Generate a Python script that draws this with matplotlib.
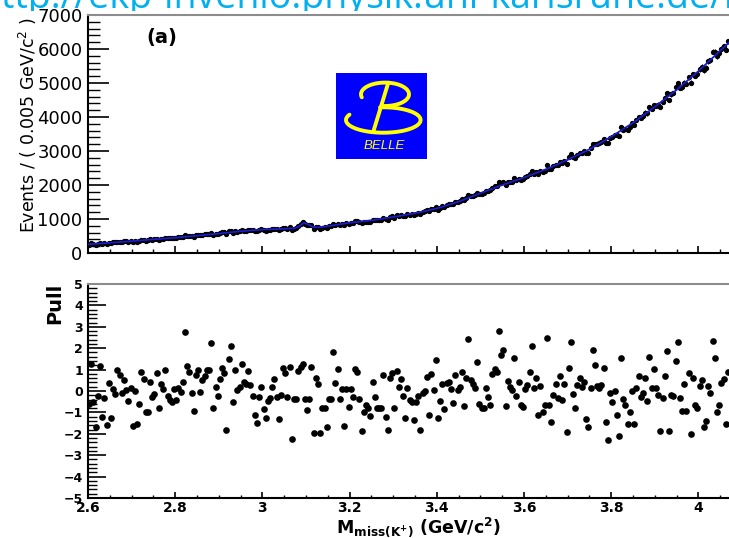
import numpy as np
import matplotlib
matplotlib.use("Agg")
import matplotlib.pyplot as plt
from matplotlib.ticker import MultipleLocator, FixedLocator, FixedFormatter
from matplotlib.patches import Rectangle

# ---- data -------------------------------------------------------------
# Missing-mass histogram: 0.005 GeV/c^2 bins starting at 2.6 GeV/c^2
mass_low = 2.6
bin_width = 0.005

# Pull per bin: (data - fit) / sigma
pulls = [
    -0.61, 1.25, -0.53, -1.67, -0.22, 1.18, -1.20, -0.31, -1.59, 0.39,
    -1.25, 0.10, -0.16, 0.98, 0.75, -0.11, 0.51, 0.05, -0.47, 0.12,
    -1.62, 0.00, -1.56, -0.62, 0.90, 0.56, -0.97, -0.97, 0.40, -0.30,
    -0.16, 0.86, -0.78, 0.31, 0.09, 0.98, -0.22, -0.42, -0.53, 0.09,
    -0.42, 0.12, -0.03, 0.44, 2.77, 1.18, 0.90, -0.11, -0.94, 0.75,
    0.98, -0.03, 0.51, 0.72, 0.98, 0.98, 2.23, -0.78, 0.20, -0.22,
    0.56, 1.06, 0.82, -1.82, 1.50, 2.12, -0.53, 0.98, 0.05, 0.20,
    1.24, 0.43, 0.31, 0.93, 0.28, -0.22, -1.12, -1.48, -0.26, 0.20,
    -0.85, -1.28, -0.47, -0.31, 0.20, 0.56, -0.26, -1.33, -0.19, 1.09,
    0.83, -0.26, 1.13, -2.24, -0.37, -0.37, 0.93, 1.13, 1.24, -0.37,
    -0.89, -0.37, 1.13, -1.98, 0.59, 0.31, -1.98, -0.81, -0.78, -1.67,
    -0.37, -0.37, 1.84, 0.36, 1.03, -0.37, 0.09, -1.62, 0.09, -0.73,
    0.09, -0.26, 1.03, 0.90, -0.37, -1.87, -1.00, -0.65, -0.78, -1.15,
    0.40, -0.26, -0.81, -0.78, -0.81, 0.75, -1.20, -1.82, 0.62, 0.83,
    -0.81, 0.93, 0.20, 0.56, -0.22, -1.25, 0.12, -0.42, -0.53, -1.36,
    -0.50, -0.22, -1.83, -0.11, 0.00, 0.67, -1.12, 0.78, 0.04, 1.45,
    -1.28, -0.47, 0.31, -0.84, 0.36, 0.40, 0.09, -0.58, 0.75, 0.04,
    0.20, 0.90, -0.70, 0.59, 2.43, 0.51, 0.31, 0.15, 1.37, -0.62,
    -0.78, -0.78, 0.12, -0.26, -0.65, 0.78, 1.03, 0.87, 2.80, 1.68,
    1.91, -0.68, 0.47, 0.20, 0.04, 1.56, -0.22, 0.43, -0.65, -0.73,
    0.10, 0.28, 0.87, 2.12, 0.15, 0.62, -1.12, 0.25, -1.00, -0.65,
    2.46, -0.65, -1.43, -0.19, 0.31, -0.31, 0.72, -0.42, 0.31, -1.93,
    1.09, 2.31, -0.15, -0.78, 0.28, 0.59, 0.20, 0.40, -1.31, -1.67,
    0.12, 1.91, 1.21, 0.25, 0.12, 0.30, 1.09, -1.43, -2.29, -0.11,
    -0.50, 0.00, -1.12, -2.09, 1.56, -0.37, -0.65, -1.56, -0.97, 0.00,
    -1.56, 0.15, 0.72, -0.26, -0.11, 0.62, -0.47, 1.60, 0.12, 1.03,
    0.15, -0.19, -1.87, -0.31, 0.72, 1.87, -1.87, -0.19, -0.22, 1.40,
    2.31, -0.34, -0.94, 0.31, -0.94, 0.83, -2.03, 0.62, -0.65, -0.81,
    0.25, 0.51, -1.67, -1.40, 0.25, -0.11, 2.34, 1.53, -1.00, -0.65,
    0.36, 0.56, -1.56, 0.87,
]

# Fitted shape (events per bin) at selected masses
fit_mass = [2.600, 2.650, 2.700, 2.750, 2.800, 2.850, 2.900, 2.950, 3.000,
            3.050, 3.075, 3.085, 3.095, 3.105, 3.115, 3.130, 3.150, 3.180,
            3.200, 3.250, 3.300, 3.350, 3.400, 3.450, 3.500, 3.550, 3.600,
            3.650, 3.700, 3.750, 3.800, 3.850, 3.900, 3.950, 4.000, 4.050,
            4.075]
fit_events = [255, 300, 350, 400, 450, 510, 570, 640, 690,
              710, 730, 790, 890, 840, 770, 755, 790, 850,
              890, 960, 1060, 1170, 1310, 1510, 1760, 2000, 2220,
              2460, 2740, 3050, 3420, 3830, 4300, 4800, 5350, 5950,
              6250]

x_tick_values = [2.6, 2.8, 3.0, 3.2, 3.4, 3.6, 3.8, 4.0]
x_tick_labels = ["2.6", "2.8", "3", "3.2", "3.4", "3.6", "3.8", "4"]
pull_ticks = list(range(-5, 6))

# ---- derived quantities ----------------------------------------------
pulls = np.asarray(pulls)
centers = mass_low + bin_width * (np.arange(len(pulls)) + 0.5)
model = np.interp(centers, fit_mass, fit_events)
events = model + pulls * np.sqrt(model)
errors = np.sqrt(events)

# ---- figure -----------------------------------------------------------
W, H = 729, 538
fig = plt.figure(figsize=(W / 100, H / 100), dpi=100)
fig.patch.set_facecolor("white")


def fx(px):
    return px / W


def fy(py):
    return 1 - py / H


def frame(ax):
    for side in ("left", "bottom"):
        ax.spines[side].set_linewidth(1.5)
        ax.spines[side].set_color("black")
    ax.spines["right"].set_visible(False)
    ax.spines["top"].set_color("#8c8c8c")
    ax.spines["top"].set_linewidth(1.5)


# Upper panel: event distribution with fit
ax1 = fig.add_axes([fx(88), fy(253), fx(729) - fx(88), fy(15) - fy(253)])
frame(ax1)
ax1.errorbar(centers, events, yerr=errors, fmt="o", ms=2.8, color="black",
             mec="black", elinewidth=0.8, capsize=0, zorder=2)
ax1.plot(fit_mass, fit_events, color="#1c1cc8", lw=1.3, zorder=3)
ax1.set_xlim(2.6, 4.07)
ax1.set_ylim(0, 7000)
ax1.yaxis.set_major_locator(MultipleLocator(1000))
ax1.yaxis.set_minor_locator(MultipleLocator(200))
ax1.xaxis.set_major_locator(FixedLocator(x_tick_values))
ax1.xaxis.set_minor_locator(MultipleLocator(0.05))
ax1.tick_params(axis="y", which="major", direction="in", length=15, width=1.2,
                pad=4, labelsize=13)
ax1.tick_params(axis="y", which="minor", direction="in", length=8.5, width=1.0)
ax1.tick_params(axis="x", which="major", direction="in", length=5, width=1.2,
                labelbottom=False)
ax1.tick_params(axis="x", which="minor", direction="in", length=2.8, width=1.0)

# Lower panel: pulls
ax2 = fig.add_axes([fx(88), fy(498), fx(729) - fx(88), fy(284) - fy(498)])
frame(ax2)
ax2.plot(centers, pulls, "o", ms=4.8, color="black", mec="none")
ax2.set_xlim(2.6, 4.07)
ax2.set_ylim(-5, 5)
ax2.yaxis.set_major_locator(FixedLocator(pull_ticks))
ax2.yaxis.set_major_formatter(FixedFormatter([f"{v}".replace("-", "\u2212")
                                              for v in pull_ticks]))
ax2.yaxis.set_minor_locator(MultipleLocator(0.2))
ax2.xaxis.set_major_locator(FixedLocator(x_tick_values))
ax2.xaxis.set_major_formatter(FixedFormatter(x_tick_labels))
ax2.xaxis.set_minor_locator(MultipleLocator(0.05))
ax2.tick_params(axis="y", which="major", direction="in", length=13, width=1.2,
                pad=3.5, labelsize=9)
ax2.tick_params(axis="y", which="minor", direction="in", length=6.5, width=1.0)
ax2.tick_params(axis="x", which="major", direction="in", length=4.5, width=1.2,
                pad=2, labelsize=10)
ax2.tick_params(axis="x", which="minor", direction="in", length=2.3, width=1.0)
for lbl in ax2.get_xticklabels() + ax2.get_yticklabels():
    lbl.set_fontweight("bold")

# Axis titles and panel tag
fig.text(fx(28), fy(125), "Events / ( 0.005 GeV/c$^{2}$ )", rotation=90,
         ha="center", va="center", fontsize=12.5)
fig.text(fx(55), fy(303), "Pull", rotation=90, ha="center", va="center",
         fontsize=14, fontweight="bold")
fig.text(fx(336), fy(533),
         r"M$_{\mathbf{miss(K^{+})}}$ (GeV/c$^{\mathbf{2}}$)",
         ha="left", va="baseline", fontsize=12.5, fontweight="bold")
fig.text(fx(162), fy(38), "(a)", ha="center", va="center", fontsize=14,
         fontweight="bold")

# Belle logo
logo = fig.add_axes([fx(336), fy(159), fx(427) - fx(336), fy(73) - fy(159)])
logo.set_facecolor("#0000ff")
for s in logo.spines.values():
    s.set_visible(False)
logo.set_xticks([])
logo.set_yticks([])
logo.set_xlim(0, 91)
logo.set_ylim(86, 0)
yel = "#ffff00"
t = np.radians(np.linspace(195, -95, 80))
logo.plot(49 + 24 * np.cos(t), 21.3 - 11.7 * np.sin(t), color=yel, lw=2.8,
          solid_capstyle="round")
t = np.radians(np.linspace(155, 455, 120))
logo.plot(47.3 + 37.3 * np.cos(t), 47 - 12.7 * np.sin(t), color=yel, lw=2.8,
          solid_capstyle="round")
logo.plot([52.3, 37.3], [9.7, 58.7], color=yel, lw=2.8, solid_capstyle="round")
logo.text(48, 73, "BELLE", color=yel, fontsize=9.5, style="italic",
          family="Liberation Sans", ha="center", va="center")

# Link banner along the top edge, partly hidden behind the plot
url = fig.text(fx(-21), fy(8), "http://ekp-invenio.physik.uni-karlsruhe.de/record/",
               color="#00b0f0", fontsize=27, family="Open Sans",
               ha="left", va="baseline")
url.set_clip_path(Rectangle((0, fy(11)), 1, 1 - fy(11),
                            transform=fig.transFigure))

fig.savefig("out.png", dpi=100)
